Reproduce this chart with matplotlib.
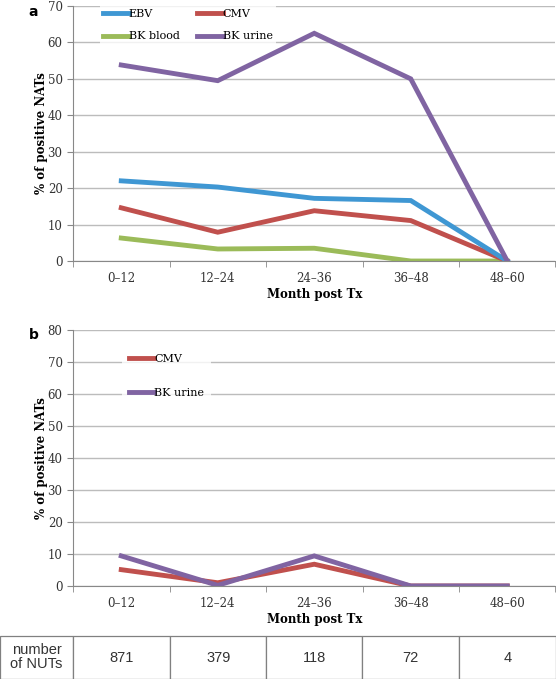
import matplotlib.pyplot as plt
from matplotlib.lines import Line2D

# data
periods = ['0\u201312', '12\u201324', '24\u201336', '36\u201348', '48\u201360']
ebv = [22.0, 20.3, 17.2, 16.6, 0]
cmv_a = [14.6, 7.9, 13.8, 11.1, 0]
bk_blood = [6.3, 3.3, 3.5, 0, 0]
bk_urine_a = [53.8, 49.5, 62.5, 50.0, 0]

cmv_b = [5.1, 1.0, 6.8, 0, 0]
bk_urine_b = [9.4, 0.2, 9.4, 0, 0]

nuts = ['871', '379', '118', '72', '4']

c_ebv = '#3f97d3'
c_cmv = '#c0504d'
c_bkb = '#9bbb59'
c_bku = '#8064a2'

serif = ['DejaVu Serif']
lw = 3.5

fig = plt.figure(figsize=(5.56, 6.79), dpi=100)


def style_axes(ax, ymax):
    x = range(len(periods))
    ax.set_xlim(-0.5, len(periods) - 0.5)
    ax.set_ylim(0, ymax)
    ax.set_yticks(range(0, ymax + 1, 10))
    ax.set_xticks(list(x))
    ax.set_xticklabels(periods, family=serif, fontsize=8.5, color='#333333')
    ax.set_xticks([i - 0.5 for i in range(len(periods) + 1)], minor=True)
    ax.tick_params(axis='x', which='major', length=0, pad=8)
    ax.tick_params(axis='x', which='minor', length=4, color='#888888')
    ax.tick_params(axis='y', length=4, color='#888888', labelsize=8.5, labelcolor='#333333')
    for lab in ax.get_yticklabels():
        lab.set_family(serif)
    ax.grid(axis='y', color='#bcbcbc', lw=1)
    ax.set_axisbelow(True)
    for s in ['top', 'right']:
        ax.spines[s].set_visible(False)
    for s in ['left', 'bottom']:
        ax.spines[s].set_color('#888888')
    ax.set_ylabel('% of positive NATs', family=serif, fontweight='bold', fontsize=8.5, labelpad=0)
    ax.set_xlabel('Month post Tx', family=serif, fontweight='bold', fontsize=8.5, labelpad=2)


# panel a
ax1 = fig.add_axes([0.1313, 0.6156, 0.8678, 0.3756])
x = range(len(periods))
ax1.plot(x, bk_blood, color=c_bkb, lw=lw, label='BK blood', solid_joinstyle='miter')
ax1.plot(x, cmv_a, color=c_cmv, lw=lw, label='CMV', solid_joinstyle='miter')
ax1.plot(x, ebv, color=c_ebv, lw=lw, label='EBV', solid_joinstyle='miter')
ax1.plot(x, bk_urine_a, color=c_bku, lw=lw, label='BK urine', solid_joinstyle='miter')
style_axes(ax1, 70)
handles = [Line2D([], [], color=c, lw=lw) for c in [c_ebv, c_bkb, c_cmv, c_bku]]
leg = ax1.legend(handles, ['EBV', 'BK blood', 'CMV', 'BK urine'], ncol=2,
                 loc='upper left', bbox_to_anchor=(0.045, 1.02), frameon=True,
                 handlelength=2.3, handletextpad=0.0, columnspacing=1.6,
                 labelspacing=1.1, prop={'family': serif, 'size': 8},
                 borderpad=0.25, fancybox=False)
leg.get_frame().set_edgecolor('none')

# panel b
ax2 = fig.add_axes([0.1313, 0.137, 0.8678, 0.377])
ax2.plot(x, cmv_b, color=c_cmv, lw=lw, label='CMV', solid_joinstyle='miter')
ax2.plot(x, bk_urine_b, color=c_bku, lw=lw, label='BK urine', solid_joinstyle='miter')
style_axes(ax2, 80)
leg2 = ax2.legend(loc='upper left', bbox_to_anchor=(0.09, 0.955), frameon=True,
                  handlelength=2.3, handletextpad=0.0, labelspacing=2.2,
                  prop={'family': serif, 'size': 8}, borderpad=0.6, fancybox=False)
leg2.get_frame().set_edgecolor('none')

fig.text(0.06, 0.982, 'a', fontweight='bold', fontsize=10, ha='center', va='center')
fig.text(0.06, 0.507, 'b', fontweight='bold', fontsize=10, ha='center', va='center')

# table of NUT counts
tax = fig.add_axes([0.0, 0.0, 1.0, 43 / 679])
tax.axis('off')
col_edges = [0, 73, 170, 266, 362, 459, 555.5]
widths = [(col_edges[i + 1] - col_edges[i]) / 556 for i in range(len(col_edges) - 1)]
tbl = tax.table(cellText=[['number\nof NUTs'] + nuts], colWidths=widths,
                cellLoc='center', bbox=[0, 0, 1, 1])
tbl.auto_set_font_size(False)
for (r, c), cell in tbl.get_celld().items():
    cell.set_edgecolor('#808080')
    cell.set_linewidth(0.9)
    cell.get_text().set_fontsize(10.5)
    cell.get_text().set_family(['Liberation Sans'])
    cell.get_text().set_color('#333333')
    cell.get_text().set_linespacing(1.0)

fig.savefig('out.png', dpi=100)
